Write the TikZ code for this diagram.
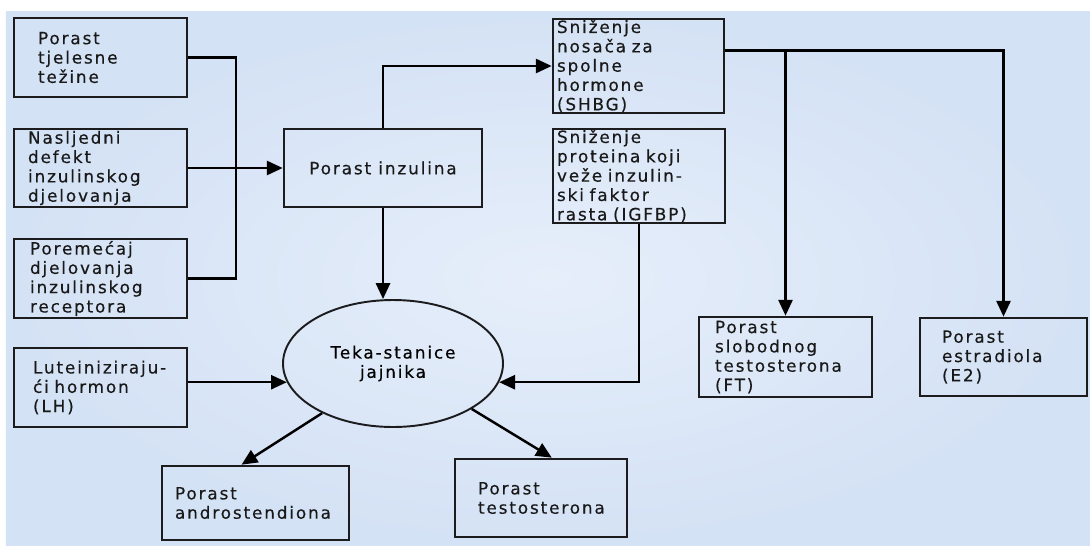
\documentclass[tikz,border=0pt]{standalone}
\usepackage{fontspec}
\usepackage{tikz}
\usetikzlibrary{arrows.meta}
\usetikzlibrary{shapes.geometric}
\newfontfamily\boxfont{DejaVu Sans}[LetterSpace=11,FakeBold=0.4]
\definecolor{bgblue}{RGB}{212,226,245}
\definecolor{bglight}{RGB}{230,238,250}
\definecolor{edge}{RGB}{28,28,30}

\begin{document}
\begin{tikzpicture}[
  box/.style={draw=edge, line width=1.5pt, rectangle, align=left, inner sep=0pt,
    font=\boxfont\fontsize{9.6}{11}\selectfont, text=black!90},
  circ/.style={draw=edge, line width=1.1pt, ellipse, align=center, inner sep=0pt,
    minimum width=4.4cm, minimum height=2.54cm, font=\boxfont\fontsize{9.6}{11}\selectfont},
  line/.style={draw=black, line width=1.4pt},
  arr/.style={line, -{Triangle[length=9pt,width=8pt]}}
]
\useasboundingbox (0,0) rectangle (21.8,10.9);
\fill[white] (0,0) rectangle (21.8,10.9);
\shade[inner color=bglight, outer color=bgblue] (0.12,0) rectangle (21.8,10.66);

\node[box, minimum width=3.46cm, minimum height=1.58cm, text width=2.5cm] (b1) at (2.01,9.75) {Porast\\tjelesne\\težine};
\node[box, minimum width=3.46cm, minimum height=1.56cm, text width=2.9cm] (b2) at (2.01,7.54) {Nasljedni\\defekt\\inzulinskog\\djelovanja};
\node[box, minimum width=3.46cm, minimum height=1.58cm, text width=2.82cm] (b3) at (2.01,5.33) {Poremećaj\\djelovanja\\inzulinskog\\receptora};
\node[box, minimum width=3.46cm, minimum height=1.58cm, text width=2.7cm] (lh) at (2.01,3.15) {Luteiniziraju-\\ći hormon\\(LH)};

\node[box, minimum width=3.96cm, minimum height=1.56cm, align=center] (inz) at (7.66,7.54) {Porast inzulina};
\node[circ] (teka) at (7.86,3.63) {Teka-stanice\\jajnika};

\node[box, minimum width=3.42cm, minimum height=1.88cm, text width=3.26cm] (shbg) at (12.77,9.58) {Sniženje\\nosača za\\spolne\\hormone\\(SHBG)};
\node[box, minimum width=3.44cm, minimum height=1.88cm, text width=3.28cm] (igf) at (12.78,7.38) {Sniženje\\proteina koji\\veže inzulin-\\ski faktor\\rasta (IGFBP)};

\node[box, minimum width=3.74cm, minimum height=1.48cm, text width=3.22cm] (andro) at (5.11,0.84) {Porast\\androstendiona};
\node[box, minimum width=3.44cm, minimum height=1.56cm, text width=2.52cm] (testo) at (10.82,0.94) {Porast\\testosterona};
\node[box, minimum width=3.46cm, minimum height=1.6cm, text width=2.82cm] (ft) at (15.71,3.76) {Porast\\slobodnog\\testosterona\\(FT)};
\node[box, minimum width=3.34cm, minimum height=1.56cm, text width=2.46cm] (e2) at (20.07,3.76) {Porast\\estradiola\\(E2)};

\coordinate (bus) at (4.72,0);
\draw[line] (b1.east) -| (bus |- b3.east) -- (b3.east);
\draw[arr] (b2.east) -- (inz.west);
\draw[arr] (inz.north) |- (shbg.west);
\draw[arr] (inz.south) -- (inz.south |- teka.north);
\draw[arr] (lh.east |- teka.190) -- (teka.190);
\draw[arr] (igf.south) |- (teka.-10);
\draw[arr] (teka.215) -- (andro.110);
\draw[arr] (teka.-30) -- (testo.75);
\draw[arr] (shbg.10) -| (e2.north);
\draw[arr] (shbg.10 -| ft.north) -- (ft.north);

\end{tikzpicture}
\end{document}
